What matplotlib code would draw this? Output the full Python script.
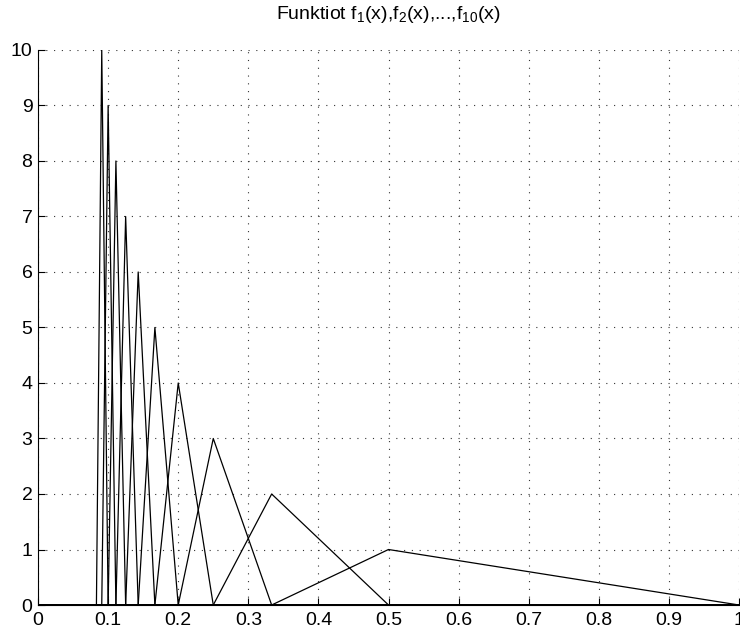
import matplotlib
matplotlib.use('Agg')
import matplotlib.pyplot as plt

plt.rcParams['font.family'] = ['Liberation Sans', 'DejaVu Sans']
plt.rcParams['mathtext.fontset'] = 'custom'
plt.rcParams['mathtext.rm'] = 'Liberation Sans'
plt.rcParams['mathtext.it'] = 'Liberation Sans'

# f_n(x): triangle that rises from left to peak (height n) and falls to right
n_vals = [1, 2, 3, 4, 5, 6, 7, 8, 9, 10]
lefts = [0.3333, 0.25, 0.2, 0.1667, 0.1429, 0.125, 0.1111, 0.1, 0.0909, 0.0833]
peaks = [0.5, 0.3333, 0.25, 0.2, 0.1667, 0.1429, 0.125, 0.1111, 0.1, 0.0909]
rights = [1.0, 0.5, 0.3333, 0.25, 0.2, 0.1667, 0.1429, 0.125, 0.1111, 0.1]

xticks = [0, 0.1, 0.2, 0.3, 0.4, 0.5, 0.6, 0.7, 0.8, 0.9, 1]
xticklabels = ['0', '0.1', '0.2', '0.3', '0.4', '0.5', '0.6', '0.7', '0.8', '0.9', '1']
yticks = list(range(0, 11))

fig = plt.figure(figsize=(7.4, 6.31), dpi=100)
ax = fig.add_axes([0.0514, 0.0412, 0.9472, 0.8796])

for n, a, p, b in zip(n_vals, lefts, peaks, rights):
    ax.plot([0, a, p, b, 1], [0, 0, n, 0, 0], color='black', linewidth=0.9)

ax.set_xlim(0, 1)
ax.set_ylim(0, 10)
ax.set_xticks(xticks)
ax.set_xticklabels(xticklabels)
ax.set_yticks(yticks)
ax.tick_params(direction='in', length=5, labelsize=14, width=0.8)
ax.tick_params(axis='x', pad=5)
ax.tick_params(axis='y', pad=4)
ax.spines['top'].set_visible(False)
ax.spines['right'].set_visible(False)
ax.grid(True, linestyle=(0, (1, 6)), color='#333333', linewidth=0.8)
ax.set_title(r'Funktiot f$_\mathrm{1}$(x),f$_\mathrm{2}$(x),...,f$_\mathrm{10}$(x)',
             fontsize=14, pad=22)

fig.savefig('out.png', dpi=100)
